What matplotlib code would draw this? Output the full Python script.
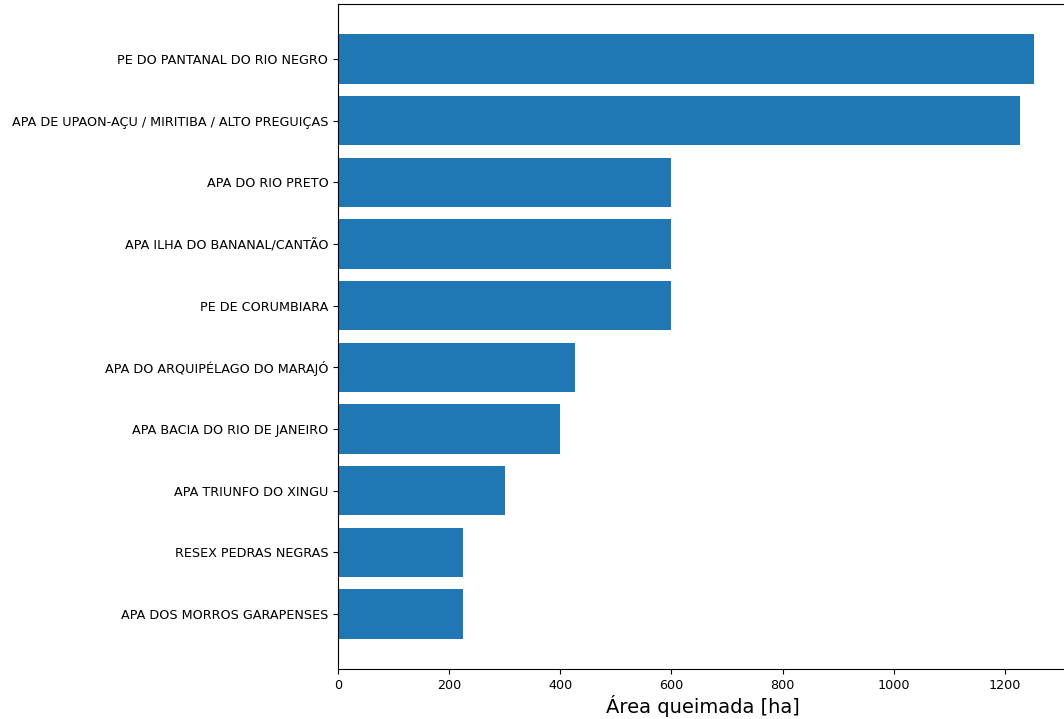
#!/usr/bin/env python3

from matplotlib import pyplot as plt

unidades = [
	'APA DOS MORROS GARAPENSES',
	'RESEX PEDRAS NEGRAS',
	'APA TRIUNFO DO XINGU',
	'APA BACIA DO RIO DE JANEIRO',
	'APA DO ARQUIPÉLAGO DO MARAJÓ',
	'PE DE CORUMBIARA',
	'APA ILHA DO BANANAL/CANTÃO',
	'APA DO RIO PRETO',
	'APA DE UPAON-AÇU / MIRITIBA / ALTO PREGUIÇAS',
	'PE DO PANTANAL DO RIO NEGRO',
]
area = [225, 225, 300, 400, 426, 600, 600, 600, 1227, 1252]


def main():
	fig = plt.figure(figsize=(10.64, 7.19), dpi=100)
	ax = fig.add_axes([0.3177, 0.0695, 0.6866, 0.9249])
	ax.barh(unidades, area, color='#1f77b4')
	ax.tick_params(axis='both', labelsize=9.2)
	ax.set_xlabel('Área queimada [ha]', fontsize=14, labelpad=2)
	fig.savefig('out.png', dpi=100)


if __name__ == '__main__':
	main()
